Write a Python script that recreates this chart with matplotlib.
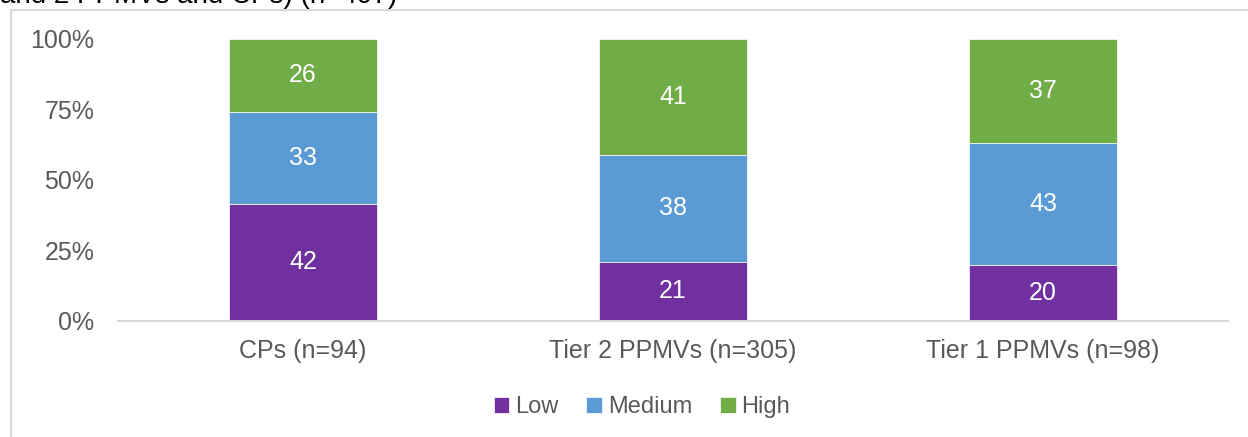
import matplotlib.pyplot as plt
from matplotlib.patches import Rectangle
import numpy as np

plt.rcParams['font.family'] = ['Liberation Sans', 'DejaVu Sans']

groups = ['CPs (n=94)', 'Tier 2 PPMVs (n=305)', 'Tier 1 PPMVs (n=98)']
low = [42, 21, 20]
medium = [33, 38, 43]
high = [26, 41, 37]
series = ['Low', 'Medium', 'High']
colors = ['#7030A0', '#5B9BD5', '#70AD47']
grey = '#595959'

fig = plt.figure(figsize=(12.48, 4.37), dpi=100)
ax = fig.add_axes([118/1248, 1-321/437, 1110/1248, 282/437])

vals = np.array([low, medium, high], dtype=float)
pct = vals / vals.sum(axis=0) * 100
x = np.arange(len(groups))
bottom = np.zeros(len(groups))
for k in range(3):
    ax.bar(x, pct[k], 0.4, bottom=bottom, color=colors[k], label=series[k],
           edgecolor='white', linewidth=0.5)
    for i in range(len(groups)):
        ax.text(x[i], bottom[i] + pct[k][i]/2, '{:d}'.format(int(vals[k][i])),
                ha='center', va='center', color='white', fontsize=18)
    bottom += pct[k]

ax.set_xlim(-0.5, 2.5)
ax.set_ylim(0, 100)
ax.set_yticks([0, 25, 50, 75, 100])
ax.set_yticklabels(['0%', '25%', '50%', '75%', '100%'])
ax.set_xticks(x)
ax.set_xticklabels(groups)
ax.tick_params(axis='y', length=0, pad=17, labelsize=18, labelcolor=grey)
ax.tick_params(axis='x', length=0, pad=13, labelsize=18, labelcolor=grey)
for s in ['top', 'right', 'left']:
    ax.spines[s].set_visible(False)
ax.spines['bottom'].set_color('#D9D9D9')
ax.spines['bottom'].set_linewidth(1.5)

fig.legend(loc='center', bbox_to_anchor=(642/1248, 1-407/437), ncol=3,
           frameon=False, fontsize=17, labelcolor=grey, handlelength=0.65,
           handleheight=0.65, handletextpad=0.25, columnspacing=1.2)

# chart frame (cut by the image edge)
fig.patches.append(Rectangle((11/1248, -0.1), 1.2, 1-10/437+0.1,
                             transform=fig.transFigure, fill=False,
                             edgecolor='#D9D9D9', linewidth=1.5))

# title, mostly cut off at the top
fig.text(0, 1 + 4/437, 'and 2 PPMVs and CPs) (n=497)', ha='left', va='center',
         fontsize=20, color='black')

fig.savefig('out.png', dpi=100)
